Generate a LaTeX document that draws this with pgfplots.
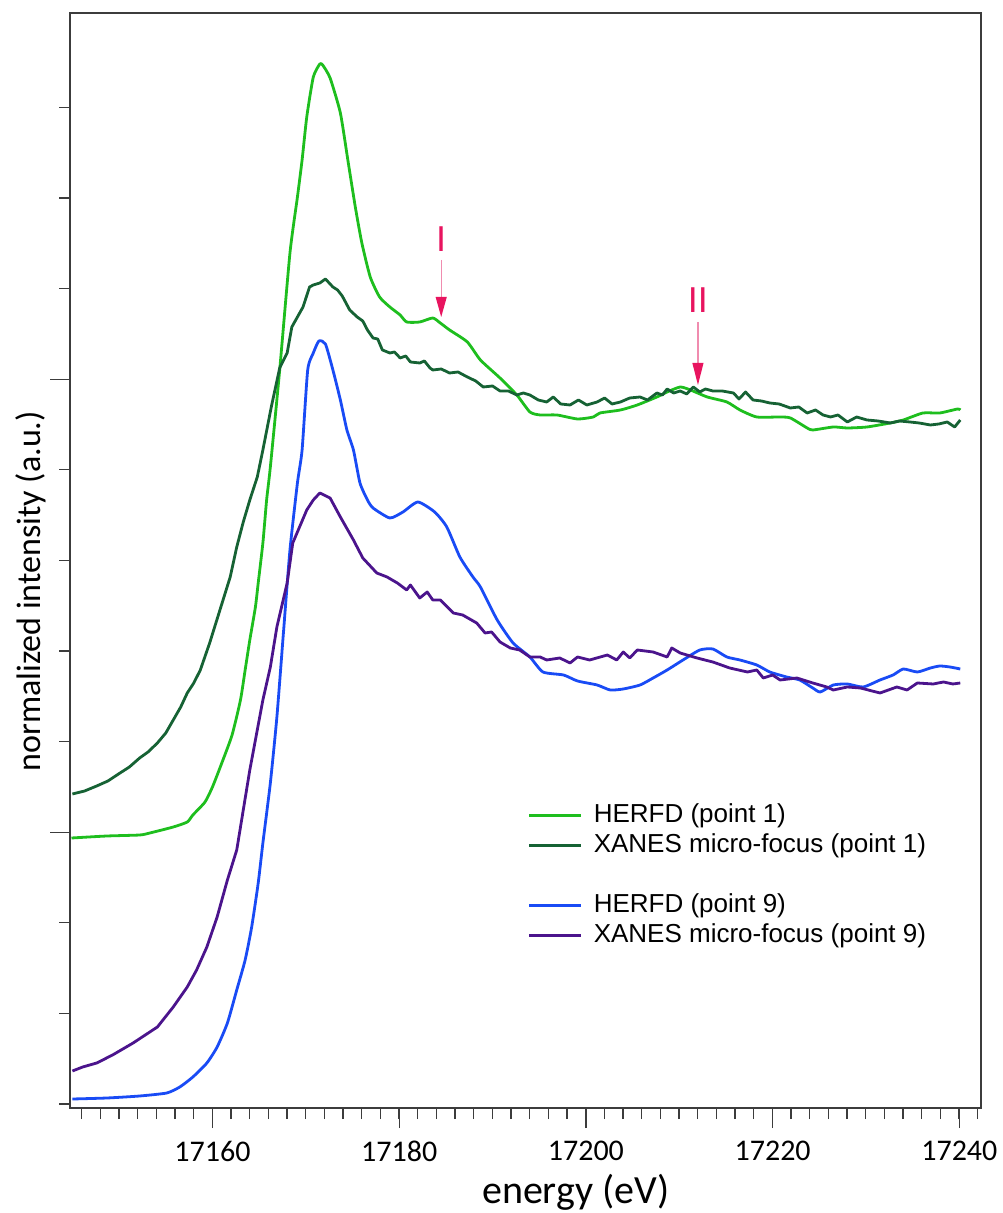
\documentclass[border=0pt]{standalone}
\usepackage{pgfplots}
\pgfplotsset{compat=1.18}
\usepackage{fontspec}
\setmainfont{Liberation Sans}
\newfontfamily\calfont{Carlito}
\definecolor{hgreen}{RGB}{30,190,30}
\definecolor{xgreen}{RGB}{22,98,52}
\definecolor{hblue}{RGB}{25,75,245}
\definecolor{xpurple}{RGB}{75,20,140}
\definecolor{axgray}{RGB}{60,60,60}
\definecolor{pinkA}{RGB}{232,20,95}
\definecolor{pinkL}{RGB}{240,140,175}

\pgfplotstableread{
E y
17144.9 269
17148.7 271
17152.2 272
17153.3 274
17155.8 280
17157.3 285
17157.9 292
17159.2 305
17160.0 320
17161.0 344
17162.1 372
17163.0 407
17163.5 437
17164.0 467
17164.6 500
17164.9 524
17165.4 564
17165.8 607
17166.2 640
17167.2 737
17168.3 854
17169.1 910
17169.6 947
17170.1 990
17170.8 1030
17171.5 1043
17171.8 1042
17172.6 1029
17173.7 994
17174.5 947
17175.3 900
17176.0 864
17176.9 830
17177.9 810
17179.0 800
17180.1 792
17180.8 785
17182.2 785
17183.6 789
17184.4 784
17185.4 777
17187.3 765
17188.7 747
17190.8 729
17192.6 712
17194.0 695
17195.1 692
17196.9 692
17199.1 688
17200.8 690
17201.5 694
17203.7 697
17205.5 702
17207.6 710
17208.7 715
17210.1 720
17211.2 717
17213.0 710
17215.1 705
17216.5 697
17218.3 690
17220.8 690
17221.9 689
17223.7 679
17224.3 677
17226.5 680
17228.0 679
17230.1 680
17232.6 684
17234.0 687
17236.1 694
17237.9 694
17239.8 698
17240.1 697
}\herfdA

\pgfplotstableread{
E y
17145.0 313
17146.3 316
17147.6 321
17148.8 326
17150.1 334
17151.1 340
17152.2 349
17153.1 355
17154.1 364
17155.0 374
17155.8 387
17156.6 400
17157.3 414
17158.0 424
17158.7 437
17159.7 464
17160.8 497
17161.9 530
17162.6 560
17163.3 585
17164.0 607
17164.8 630
17165.4 657
17166.3 700
17167.2 739
17168.0 754
17168.5 780
17169.1 790
17169.7 800
17170.4 820
17170.8 822
17171.5 824
17172.1 828
17172.9 820
17173.4 817
17173.9 811
17174.7 797
17175.5 790
17176.1 786
17176.6 777
17177.2 769
17177.7 768
17178.2 757
17179.0 754
17179.5 755
17180.1 749
17180.7 751
17181.2 745
17182.2 744
17182.7 746
17183.3 739
17183.6 737
17184.5 738
17185.4 734
17186.3 735
17187.3 730
17188.2 726
17189.0 720
17190.0 721
17190.8 716
17191.7 716
17192.6 712
17193.3 714
17194.0 712
17194.9 707
17195.8 705
17196.5 710
17197.3 703
17198.3 702
17199.2 707
17200.1 702
17201.2 705
17202.0 709
17202.8 703
17203.7 705
17204.7 709
17205.8 710
17206.6 707
17207.6 714
17208.2 712
17208.7 718
17209.4 714
17210.1 716
17210.8 713
17211.5 720
17212.2 715
17212.8 718
17213.6 716
17214.6 716
17215.8 714
17216.4 708
17217.1 715
17217.9 707
17218.8 706
17219.7 704
17220.7 703
17221.9 699
17222.8 700
17223.7 694
17224.6 697
17225.4 692
17226.2 690
17227.0 692
17228.0 685
17229.0 690
17230.1 687
17231.3 686
17232.6 684
17233.6 686
17234.7 685
17235.7 684
17236.9 682
17237.8 683
17238.7 685
17239.5 680
17240.1 687
}\xanesA

\pgfplotstableread{
E y
17145.0 8
17148.7 9
17152.2 11
17155.1 14
17156.5 20
17157.9 30
17159.4 44
17160.5 60
17161.6 84
17162.6 117
17163.5 147
17164.2 180
17164.9 224
17165.4 264
17166.2 324
17166.9 390
17167.6 474
17168.3 557
17169.1 624
17169.6 657
17170.2 737
17170.8 754
17171.4 766
17172.1 763
17172.9 737
17173.7 707
17174.4 677
17175.1 657
17175.8 624
17176.6 607
17177.2 599
17179.0 589
17180.4 595
17182.0 605
17183.8 595
17185.1 580
17186.5 550
17187.9 530
17188.7 520
17190.5 487
17192.2 464
17194.0 450
17195.4 435
17197.6 432
17199.1 426
17201.2 422
17202.6 417
17204.0 418
17205.8 422
17207.2 429
17208.7 437
17210.4 447
17212.2 457
17213.6 458
17215.1 450
17216.5 447
17218.3 442
17219.7 435
17221.5 430
17222.9 427
17224.3 419
17225.1 415
17226.5 422
17228.0 423
17229.7 420
17231.5 427
17232.9 432
17234.0 438
17235.5 435
17236.9 439
17237.9 441
17239.0 440
17240.1 438
}\herfdB

\pgfplotstableread{
E y
17145.0 36
17146.1 40
17147.6 44
17149.3 52
17151.5 64
17154.1 80
17155.8 100
17157.3 120
17158.3 137
17159.4 160
17160.5 190
17161.6 227
17162.6 257
17163.3 297
17164.0 337
17164.8 377
17165.4 407
17166.2 440
17166.9 480
17168.0 524
17168.6 564
17170.1 597
17170.8 607
17171.5 614
17172.6 609
17173.7 590
17175.1 567
17176.1 549
17177.6 534
17178.7 530
17179.8 524
17180.8 517
17181.2 522
17182.2 509
17183.0 515
17183.6 507
17184.4 507
17185.8 494
17186.8 492
17188.3 484
17189.2 474
17189.9 475
17190.8 465
17191.9 459
17192.9 457
17194.0 450
17195.1 450
17195.8 447
17197.2 449
17198.3 444
17199.1 450
17200.4 447
17202.3 452
17203.3 447
17204.0 455
17204.7 449
17205.5 457
17207.2 455
17208.7 450
17209.2 459
17210.1 454
17211.9 449
17213.6 445
17215.4 439
17217.3 435
17218.3 437
17219.0 429
17220.0 432
17220.8 427
17222.6 429
17224.3 424
17225.8 420
17226.5 417
17228.0 420
17229.4 419
17231.5 414
17233.3 420
17234.4 417
17235.5 424
17237.2 423
17238.3 425
17239.3 423
17240.1 424
}\xanesB

\begin{document}
\begin{tikzpicture}
\begin{axis}[name=a, scale only axis, width=455.5pt, height=547.65pt,
 xmin=17144.74, xmax=17242.32, ymin=-1, ymax=1094.3,
 scaled x ticks=false, scaled y ticks=false,
 axis line style={axgray, line width=1pt},
 tick style={axgray, line width=0.6pt},
 tick align=outside, xtick pos=bottom, ytick pos=left,
 major tick length=10pt, minor tick length=5.5pt,
 xtick={17160,17180,17200,17220,17240},
 xticklabels={17160,17180,17200,17220,17240},
 minor xtick={17146,17148,...,17242},
 ytick={274.8,727.8}, yticklabels={},
 minor ytick={3,93.6,184.2,365.4,456,546.6,637.2,818.4,909,999.6},
 xticklabel style={font=\calfont\fontsize{15}{15}\selectfont, anchor=north, inner sep=0pt},
 xticklabel shift=6.5pt,
 xlabel={energy (eV)}, ylabel={normalized intensity (a.u.)},
 xlabel style={font=\calfont\fontsize{20}{20}\selectfont, at={(axis description cs:0.555,-0.0766)}, anchor=center},
 ylabel style={font=\calfont\fontsize{17}{17}\selectfont, at={(axis description cs:-0.0428,0.4717)}, anchor=center},
 legend style={draw=none, fill=none, inner sep=0pt, outer sep=0pt,
   at={(0.5027,0.280)}, anchor=north west,
   font=\fontsize{13}{15}\selectfont, column sep=4.5pt, row sep=0.5pt,
   nodes={inner sep=1pt, text height=9.5pt, text depth=3pt}},
 legend cell align=left,
 legend image code/.code={\draw[#1] (0pt,0pt) -- (26pt,0pt);},
 every axis plot/.append style={no markers, line width=1.4pt, line join=round},
]
\addplot[hgreen, smooth, tension=0.35] table[x=E,y=y] {\herfdA};
\addlegendentry{HERFD (point 1)}
\addplot[xgreen] table[x=E,y=y] {\xanesA};
\addlegendentry{XANES micro-focus (point 1)}
\addlegendimage{empty legend}
\addlegendentry{}
\addplot[hblue, smooth, tension=0.35] table[x=E,y=y] {\herfdB};
\addlegendentry{HERFD (point 9)}
\addplot[xpurple] table[x=E,y=y] {\xanesB};
\addlegendentry{XANES micro-focus (point 9)}

\node[pinkA, font=\fontsize{18}{18}\selectfont, inner sep=0pt] at (axis cs:17184.5,868) {I};
\draw[pinkL, line width=0.6pt] (axis cs:17184.5,847) -- (axis cs:17184.5,810);
\fill[pinkA] (axis cs:17183.9,810) -- (axis cs:17185.1,810) -- (axis cs:17184.5,790) -- cycle;
\node[pinkA, font=\fontsize{18}{18}\selectfont, inner sep=0pt] at (axis cs:17212.0,807) {II};
\draw[pinkL, line width=0.6pt] (axis cs:17212.0,785) -- (axis cs:17212.0,744);
\fill[pinkA] (axis cs:17211.4,744) -- (axis cs:17212.6,744) -- (axis cs:17212.0,722) -- cycle;
\end{axis}
\pgfresetboundingbox
\path ([shift={(-35pt,-52.5pt)}]a.south west) rectangle ([shift={(10.5pt,6.35pt)}]a.north east);
\end{tikzpicture}
\end{document}
